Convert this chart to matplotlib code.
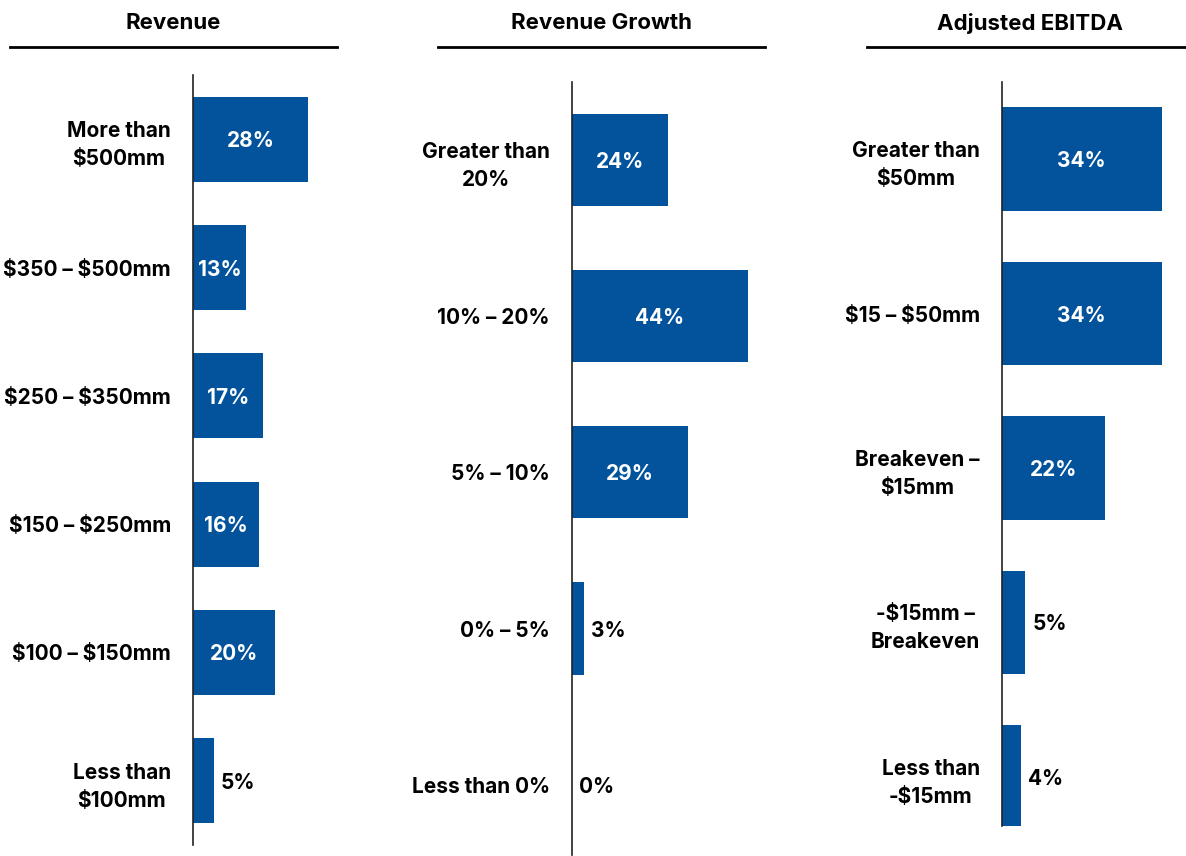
import matplotlib.pyplot as plt
from matplotlib.lines import Line2D

plt.rcParams['font.family'] = ['Inter', 'DejaVu Sans']
plt.rcParams['font.weight'] = 'bold'
plt.rcParams['text.parse_math'] = False

BLUE = '#02529C'
FS = 15
TITLE_FS = 16

revenue_cats = ['More than\n$500mm', '$350 – $500mm', '$250 – $350mm',
                '$150 – $250mm', '$100 – $150mm', 'Less than\n$100mm']
revenue_vals = [28, 13, 17, 16, 20, 5]

growth_cats = ['Greater than\n20%', '10% – 20%', '5% – 10%', '0% – 5%',
               'Less than 0%']
growth_vals = [24, 44, 29, 3, 0]

ebitda_cats = ['Greater than\n$50mm', '$15 – $50mm', 'Breakeven –\n$15mm',
               '-$15mm –\nBreakeven', 'Less than\n-$15mm']
ebitda_vals = [34, 34, 22, 5, 4]

W, H = 1186, 856
fig = plt.figure(figsize=(W / 100, H / 100), dpi=100)


def box(x0, y0, x1, y1):
    # pixel box (top-left origin) -> figure fraction rect
    return [x0 / W, 1 - y1 / H, (x1 - x0) / W, (y1 - y0) / H]


def panel(title, cats, vals, rect, xmax, ylim, bar_h, title_x, line_x):
    ax = fig.add_axes(box(*rect))
    y = range(len(cats))
    ax.barh(y, vals, height=bar_h, color=BLUE)
    ax.set_xlim(0, xmax)
    ax.set_ylim(*ylim)
    ax.set_yticks(list(y))
    ax.set_yticklabels(cats, fontsize=FS, fontweight='bold',
                       multialignment='center', linespacing=1.5)
    ax.tick_params(axis='y', length=0, pad=16)
    ax.set_xticks([])
    for s in ['top', 'right', 'bottom']:
        ax.spines[s].set_visible(False)
    ax.spines['left'].set_color('#222222')
    ax.spines['left'].set_linewidth(1.2)
    for i, v in enumerate(vals):
        if v >= 10:
            ax.text(v / 2, i, f'{v}%', color='white', ha='center',
                    va='center_baseline', fontsize=FS, fontweight='bold')
        else:
            ax.annotate(f'{v}%', (v, i), xytext=(5, 0),
                        textcoords='offset points', color='black', ha='left',
                        va='center_baseline', fontsize=FS, fontweight='bold')
    fig.text(title_x / W, 1 - 23 / H, title, ha='center', va='center',
             fontsize=TITLE_FS, fontweight='bold')
    fig.add_artist(Line2D([line_x[0] / W, line_x[1] / W],
                          [1 - 47 / H, 1 - 47 / H], color='black', lw=2))
    return ax


panel('Revenue', revenue_cats, revenue_vals, (193, 75, 316, 845), 30,
      (5.5, -0.5), 0.66, 173, (10, 337))
panel('Revenue Growth', growth_cats, growth_vals, (572, 82, 760, 855), 47,
      (4.45, -0.5), 0.59, 601, (438, 765))
panel('Adjusted EBITDA', ebitda_cats, ebitda_vals, (1002, 82, 1171, 826), 36,
      (4.32, -0.5), 0.67, 1030, (867, 1186))

fig.savefig('out.png', dpi=100)
